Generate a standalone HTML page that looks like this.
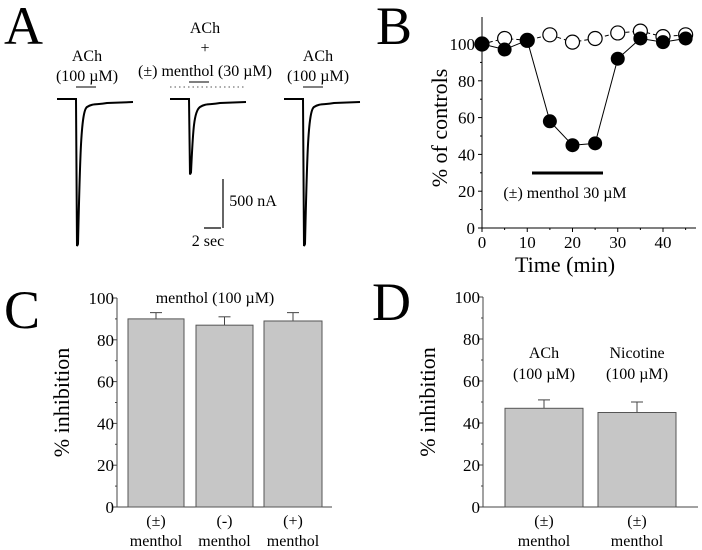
<!DOCTYPE html>
<html><head><meta charset="utf-8"><style>
body{margin:0;background:#fff}
svg{display:block;font-family:"Liberation Serif",serif}
</style></head><body>
<svg id="fig" width="702" height="550" viewBox="0 0 702 550">
<g font-size="54" fill="#000">
<text x="4" y="44">A</text>
<text x="376" y="44">B</text>
<text x="4" y="328">C</text>
<text x="372" y="320">D</text>
</g>
<g id="pa" font-size="16" text-anchor="middle"></g>
<g id="pb"></g>
<g id="pc"></g>
<g id="pd"></g>
</svg>
<script>
const NS="http://www.w3.org/2000/svg";
function el(p,t,a,txt){const e=document.createElementNS(NS,t);for(const k in a)e.setAttribute(k,a[k]);if(txt!==undefined)e.textContent=txt;p.appendChild(e);return e;}

// Panel A data: trace peak amplitudes (nA)
const traceNames=["control","menthol","washout"];
const tracePeaks=[-1500,-770,-1500];
const traceStartX=[57,170,284];
// Panel B data
const timeMin=[0,5,10,15,20,25,30,35,40,45];
const openVals=[100,103,102,105,101,103,106,107,104,105];
const filledVals=[100,97,102,58,45,46,92,103,101,103];
const bTicksY=[0,20,40,60,80,100];
const bTicksX=[0,10,20,30,40];
// Panel C data
const cCats=["(±)","(-)","(+)"];
const cVals=[90,87,89];
const cErr=[3,4,4];
// Panel D data
const dCats=["ACh","Nicotine"];
const dVals=[47,45];
const dErr=[4,5];
const barTicks=[0,20,40,60,80,100];

// ---- Panel A
const pa=document.getElementById('pa');
const base=99, nApx=49/500;
traceStartX.forEach((x0,i)=>{
  const A=tracePeaks[i]*nApx;
  const py=base-A;
  const d=`M${x0},${base} L${x0+19},${base} L${x0+20},${py} L${x0+21},${py-2} `+
    `C${x0+23},${base+(py-base)*0.4} ${x0+24},${base+12} ${x0+30},${base+8} `+
    `C${x0+36},${base+4} ${x0+40},${base+6} ${x0+50},${base+4} L${x0+76},${base+3}`;
  const p=el(pa,'path',{d:d,fill:'none',stroke:'#000','stroke-width':2});
  
  
});
el(pa,'text',{x:87,y:61},'ACh');
el(pa,'text',{x:87,y:81},'(100 µM)');
el(pa,'line',{x1:76,y1:87,x2:96,y2:87,stroke:'#000','stroke-width':1});
el(pa,'text',{x:205,y:33},'ACh');
el(pa,'text',{x:205,y:53},'+');
el(pa,'text',{x:205,y:76},'(±) menthol (30 µM)');
el(pa,'line',{x1:189,y1:82,x2:209,y2:82,stroke:'#000','stroke-width':1});
el(pa,'line',{x1:170,y1:87,x2:245,y2:87,stroke:'#555','stroke-width':1,'stroke-dasharray':'1.5,3'});
el(pa,'text',{x:318,y:61},'ACh');
el(pa,'text',{x:318,y:81},'(100 µM)');
el(pa,'line',{x1:303,y1:87,x2:323,y2:87,stroke:'#000','stroke-width':1});
el(pa,'line',{x1:223,y1:179,x2:223,y2:228,stroke:'#000','stroke-width':1.2});
el(pa,'line',{x1:204,y1:228,x2:221,y2:228,stroke:'#000','stroke-width':1.2});
el(pa,'text',{x:253,y:206},'500 nA');
el(pa,'text',{x:208,y:246},'2 sec');

// ---- Panel B
const pb=document.getElementById('pb');
const bx=v=>482+v*4.525, by=v=>228-v*1.84;
el(pb,'line',{x1:482,y1:17,x2:482,y2:228,stroke:'#000'});
el(pb,'line',{x1:482,y1:228,x2:696,y2:228,stroke:'#000'});
bTicksY.forEach(t=>{el(pb,'line',{x1:478,y1:by(t),x2:482,y2:by(t),stroke:'#000'});
  el(pb,'text',{x:475,y:by(t)+6,'font-size':17,'text-anchor':'end'},t);
  if(t<100)el(pb,'line',{x1:480,y1:by(t+10),x2:482,y2:by(t+10),stroke:'#000'});});
bTicksX.forEach(t=>{el(pb,'line',{x1:bx(t),y1:228,x2:bx(t),y2:232,stroke:'#000'});
  el(pb,'text',{x:bx(t),y:248,'font-size':17,'text-anchor':'middle'},t);});
[5,15,25,35,45].forEach(t=>el(pb,'line',{x1:bx(t),y1:228,x2:bx(t),y2:230,stroke:'#000'}));
el(pb,'text',{x:565,y:272,'font-size':22,'text-anchor':'middle'},'Time (min)');
el(pb,'text',{x:0,y:0,'font-size':22,'text-anchor':'middle',transform:`translate(447,128) rotate(-90)`},'% of controls');
el(pb,'line',{x1:532,y1:173,x2:603,y2:173,stroke:'#000','stroke-width':3});
el(pb,'text',{x:565,y:198,'font-size':16,'text-anchor':'middle'},'(±) menthol 30 µM');
let po='',pf='';
timeMin.forEach((t,i)=>{po+=(i?'L':'M')+bx(t)+','+by(openVals[i]);pf+=(i?'L':'M')+bx(t)+','+by(filledVals[i]);});
el(pb,'path',{d:po,fill:'none',stroke:'#000','stroke-width':1,'stroke-dasharray':'4,3'});
el(pb,'path',{d:pf,fill:'none',stroke:'#000','stroke-width':1});
timeMin.forEach((t,i)=>{
  const c=el(pb,'circle',{cx:bx(t),cy:by(openVals[i]),r:7,fill:'#fff',stroke:'#000','stroke-width':1.2});
  
  
});
timeMin.forEach((t,i)=>{
  const c=el(pb,'circle',{cx:bx(t),cy:by(filledVals[i]),r:7,fill:'#000'});
  
  
});

// ---- Bar panels
function barPanel(g,ax,ay0,ay100,xend,cats,vals,errs,bars,labels){
  const y=v=>ay0-(ay0-ay100)*v/100;
  el(g,'line',{x1:ax,y1:ay100,x2:ax,y2:ay0,stroke:'#444'});
  el(g,'line',{x1:ax,y1:ay0,x2:xend,y2:ay0,stroke:'#444'});
  barTicks.forEach(t=>{el(g,'line',{x1:ax-4,y1:y(t),x2:ax,y2:y(t),stroke:'#444'});
    el(g,'text',{x:ax-3,y:y(t)+6,'font-size':17,'text-anchor':'end'},t);
    if(t<100)el(g,'line',{x1:ax-2,y1:y(t+10),x2:ax,y2:y(t+10),stroke:'#444'});});
  vals.forEach((v,i)=>{
    const [x1,x2]=bars[i];const cx=(x1+x2)/2;
    el(g,'line',{x1:cx,y1:y(v),x2:cx,y2:y(v+errs[i]),stroke:'#444'});
    el(g,'line',{x1:cx-6,y1:y(v+errs[i]),x2:cx+6,y2:y(v+errs[i]),stroke:'#444'});
    const r=el(g,'rect',{x:x1,y:y(v),width:x2-x1,height:ay0-y(v),fill:'#c6c6c6',stroke:'#555'});
    
    
    el(g,'text',{x:cx,y:526,'font-size':16,'text-anchor':'middle'},labels[i]);
    el(g,'text',{x:cx,y:546,'font-size':16,'text-anchor':'middle'},'menthol');
  });
  el(g,'text',{x:0,y:0,'font-size':22,'text-anchor':'middle',transform:`translate(${ax-48},${(ay0+ay100)/2}) rotate(-90)`},'% inhibition');
}
const pc=document.getElementById('pc');
barPanel(pc,117,507,298,332,cCats,cVals,cErr,[[128,184],[196,253],[264,322]],cCats);
el(pc,'text',{x:215,y:303,'font-size':16,'text-anchor':'middle'},'menthol (100 µM)');
const pd=document.getElementById('pd');
barPanel(pd,483,507,297,698,dCats,dVals,dErr,[[505,583],[598,676]],["(±)","(±)"]);
el(pd,'text',{x:544,y:358,'font-size':16,'text-anchor':'middle'},'ACh');
el(pd,'text',{x:544,y:379,'font-size':16,'text-anchor':'middle'},'(100 µM)');
el(pd,'text',{x:637,y:358,'font-size':16,'text-anchor':'middle'},'Nicotine');
el(pd,'text',{x:637,y:379,'font-size':16,'text-anchor':'middle'},'(100 µM)');
</script>
</body></html>
